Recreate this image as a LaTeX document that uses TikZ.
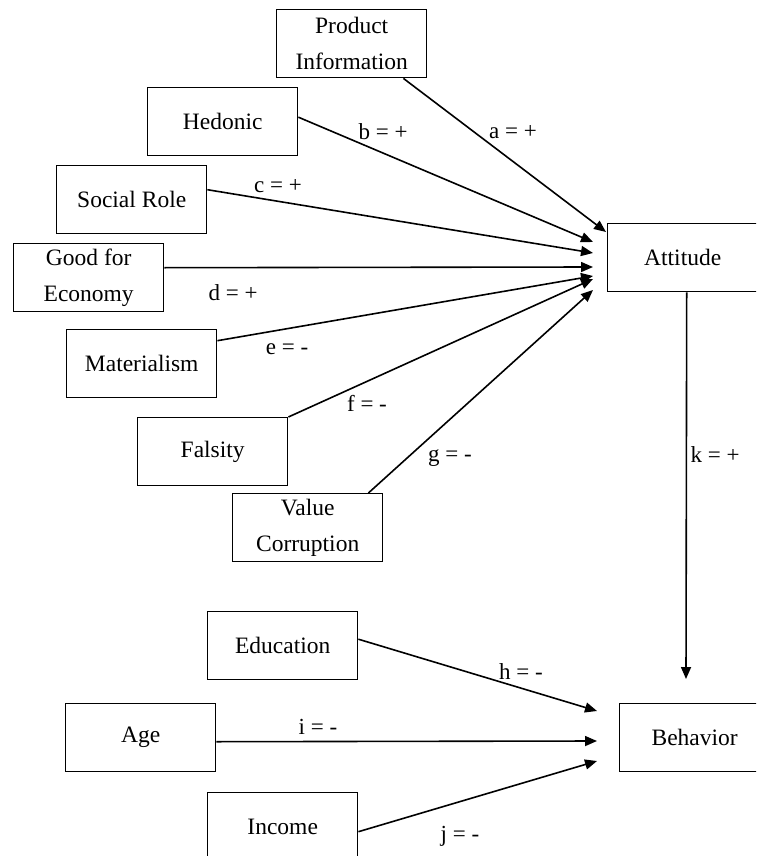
\documentclass[tikz,border=0pt]{standalone}
\usepackage{fontspec}
\setmainfont{Liberation Serif}
\usetikzlibrary{arrows.meta}
\tikzset{
  box/.style={draw, line width=1.4pt, rectangle, anchor=north west, minimum width=150pt, minimum height=68pt, inner sep=0pt, align=center, font=\fontsize{23.5}{36}\selectfont},
  lbl/.style={font=\fontsize{23}{27}\selectfont, inner sep=0pt},
  conn/.style={line width=1.6pt, -{Triangle[length=12pt,width=10pt]}}
}
\begin{document}
\begin{tikzpicture}[x=1pt,y=-1pt]
\useasboundingbox (0,0) rectangle (756,856);
\clip (0,0) rectangle (756,856);
\fill[white] (0,0) rectangle (756,856);
% boxes
\node[box] (prod) at (276,9) {Product\\Information};
\node[box] (hed) at (147,87) {Hedonic};
\node[box] (soc) at (56,165) {Social Role};
\node[box] (goo) at (13,243) {Good for\\Economy};
\node[box] (mat) at (66,329) {Materialism};
\node[box] (fal) at (137,417) {Falsity};
\node[box] (val) at (232,493) {Value\\Corruption};
\node[box] (att) at (607,223) {Attitude};
\node[box] (edu) at (207,611) {Education};
\node[box] (age) at (65,703) {Age};
\node[box] (inc) at (207,792) {Income};
\node[box] (beh) at (619,703) {Behavior};
% arrow tips
\coordinate (ta) at (606,232);
\coordinate (tb) at (593,242);
\coordinate (tc) at (593,253);
\coordinate (td) at (593,267);
\coordinate (te) at (593,276);
\coordinate (tf) at (593,279);
\coordinate (tg) at (593,290);
\coordinate (tk) at (686,679);
\coordinate (th) at (597,711);
\coordinate (ti) at (597,741);
\coordinate (tj) at (597,761);
% connectors
\draw[conn] ([xshift=-24pt]prod.south east) -- (ta);
\draw[conn] ([yshift=4.5pt]hed.east) -- (tb);
\draw[conn] ([yshift=10pt]soc.east) -- (tc);
\draw[conn] ([yshift=10pt]goo.east) -- (td);
\draw[conn] ([yshift=23pt]mat.east) -- (te);
\draw[conn] (fal.north east) -- (tf);
\draw[conn] ([xshift=-15pt]val.north east) -- (tg);
\draw[conn] ([xshift=4pt]att.south) -- (tk);
\draw[conn] ([yshift=6.5pt]edu.east) -- (th);
\draw[conn] ([yshift=-4pt]age.east) -- (ti);
\draw[conn] ([yshift=-5pt]inc.east) -- (tj);
% labels
\node[lbl] (la) at (513,132) {a = +};
\node[lbl] (lb) at (383,132) {b = +};
\node[lbl] (lc) at (278,186) {c = +};
\node[lbl] (ld) at (233,293) {d = +};
\node[lbl] (le) at (287,349) {e = -};
\node[lbl] (lf) at (367,403) {f = -};
\node[lbl] (lg) at (450,458) {g = -};
\node[lbl] (lk) at (715,455) {k = +};
\node[lbl] (lh) at (521,672) {h = -};
\node[lbl] (li) at (318,727) {i = -};
\node[lbl] (lj) at (460,836) {j = -};
\end{tikzpicture}
\end{document}
